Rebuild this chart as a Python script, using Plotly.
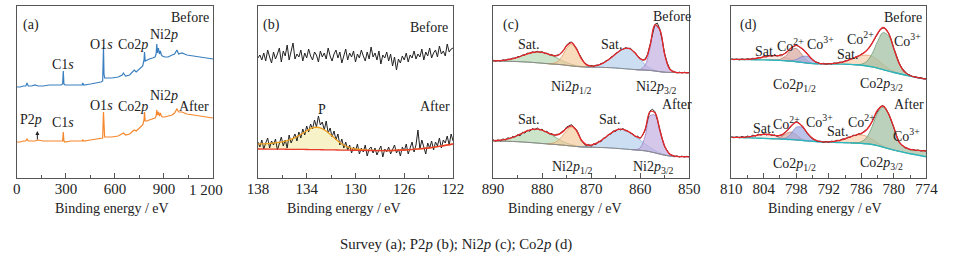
import plotly.graph_objects as go

W, H = 954, 259
FONT = "Liberation Serif, Times New Roman, serif"
INK = "#222222"
FRAME = "#555555"
YOFF = 2  # annotation vertical correction (px)

# ---------------- (a) survey spectra ----------------
survey_ev = [0, 20, 40, 55, 62, 70, 90, 110, 130, 160, 200, 240, 270, 280, 284, 288, 295, 330, 370, 400,
             403, 410, 450, 490, 515, 525, 530, 533, 537, 545, 580, 620, 645, 652, 665, 690, 710, 718, 730, 750,
             770, 778, 781, 785, 795, 810, 830, 845, 852, 856, 860, 866, 872, 878, 884, 890, 905, 925, 950, 965,
             979, 990, 1010, 1040, 1080, 1120, 1160, 1200]
survey_before = [91, 91, 92, 92, 95, 92, 92, 93, 92, 92, 93, 93, 93, 94, 107, 94, 93, 93, 93, 93,
                 95, 93, 94, 95, 96, 97, 131, 104, 100, 100, 100, 101, 103, 105, 102, 103, 107, 108, 106, 109,
                 112, 118, 126, 117, 118, 119, 120, 121, 124, 134, 125, 130, 124, 127, 123, 122, 121, 121, 123, 124,
                 128, 124, 125, 123, 122, 121, 120, 119]
survey_after = [36, 36, 37, 37, 39, 37, 37, 37, 38, 37, 37, 37, 37, 37, 46, 37, 36, 37, 37, 37,
                38, 37, 38, 39, 40, 40, 66, 45, 41, 41, 41, 42, 44, 45, 43, 44, 47, 48, 47, 50,
                53, 58, 66, 57, 57, 58, 59, 60, 62, 68, 63, 66, 62, 65, 62, 61, 61, 62, 63, 65,
                69, 66, 66, 64, 63, 62, 61, 60]

# ---------------- (b) P2p ----------------
p2p_start, p2p_step = 138.0, 0.16
p2p_before = [120, 123, 118, 125, 117, 128, 121, 115, 126, 119,
              124, 130, 116, 127, 122, 133, 118, 126, 135, 119,
              124, 121, 128, 117, 125, 120, 129, 122, 118, 126,
              123, 116, 127, 121, 125, 119, 130, 122, 117, 124,
              128, 120, 126, 115, 123, 129, 118, 125, 121, 127,
              116, 124, 120, 128, 122, 117, 126, 119, 131, 121,
              125, 118, 127, 114, 123, 120, 126, 117, 124, 112,
              121, 108, 119, 115, 122, 118, 125, 116, 123, 120,
              127, 119, 124, 121, 129, 118, 126, 122, 130, 120,
              125, 128, 121, 132, 124, 127, 122, 134, 126, 129, 130]
p2p_after = [36, 31, 38, 29, 35, 40, 30, 37, 33, 39,
             28, 36, 41, 32, 38, 30, 43, 35, 39, 44,
             37, 46, 40, 49, 43, 52, 46, 54, 49, 58,
             51, 62, 53, 56, 48, 57, 45, 50, 41, 47,
             38, 44, 33, 39, 30, 36, 28, 33, 25, 31,
             27, 34, 24, 30, 26, 33, 22, 29, 31, 25,
             30, 23, 28, 32, 21, 29, 26, 31, 24, 28,
             33, 25, 29, 22, 31, 27, 34, 24, 30, 36,
             26, 33, 48, 29, 38, 31, 24, 35, 30, 37,
             28, 36, 32, 40, 30, 38, 35, 42, 33, 44, 37]
p2p_fit_ev = [138, 137, 136, 135.5, 135, 134.5, 134, 133.5, 133, 132.5, 132, 131.5, 131, 130.5, 130,
              129, 128, 127, 126, 125, 124, 123, 122]
p2p_fit_base = [29.0, 28.9, 28.8, 28.7, 28.7, 28.6, 28.5, 28.4, 28.3, 28.2, 28.1, 28.0, 27.9, 27.8, 27.7,
                27.5, 27.4, 27.5, 28.0, 28.8, 30.0, 31.8, 34.0]
p2p_fit_env = [34.0, 34.6, 36.2, 37.8, 40.2, 43.5, 47.2, 50.3, 50.5, 47.8, 43.0, 37.5, 33.2, 30.5, 29.0,
               27.9, 27.5, 27.5, 28.0, 28.8, 30.0, 31.8, 34.0]

# ---------------- (c) Ni2p  (fit grid 890 -> 850, 1 eV) ----------------
ni_grid_start = 890
ni_base_before = [117.0, 116.9, 116.8, 116.7, 116.6, 116.4, 116.2, 115.9, 115.6, 115.2, 114.8, 114.4, 114.0,
                  113.7, 113.3, 112.7, 112.1, 111.6, 111.2, 111.0, 110.9, 110.8, 110.7, 110.5, 110.3, 110.0,
                  109.6, 109.2, 108.8, 108.4, 108.1, 107.9, 107.6, 107.0, 106.3, 105.8, 105.6, 105.5, 105.4,
                  105.3, 105.2]
ni_before_sat1_from, ni_before_sat1 = 890, [0.2, 0.4, 0.8, 1.6, 2.8, 4.3, 6.3, 8.3, 9.9, 10.9, 10.9, 9.9, 8.3,
                                            6.3, 4.3, 2.8, 1.6, 0.8, 0.4, 0.2, 0]
ni_before_p12_from, ni_before_p12 = 879, [0, 0.4, 2.2, 7.8, 16.7, 21.6, 16.7, 7.8, 2.2, 0.4, 0]
ni_before_sat2_from, ni_before_sat2 = 871, [0, 0.65, 1.5, 3.2, 6.0, 9.8, 14.1, 18.1, 20.5, 20.2, 16.3, 10.5,
                                            5.5, 2.3, 0.8, 0.2, 0]
ni_before_p32_from, ni_before_p32 = 861, [0, 0.5, 5.0, 22.4, 45.3, 41.8, 17.6, 3.4, 0.3, 0]

ni_base_after = [37.0, 36.9, 36.8, 36.7, 36.5, 36.3, 36.0, 35.7, 35.3, 34.9, 34.5, 34.1, 33.8, 33.4, 33.0,
                 32.5, 32.0, 31.5, 31.1, 30.9, 30.8, 30.6, 30.5, 30.3, 30.0, 29.7, 29.3, 28.9, 28.5, 28.1,
                 27.7, 27.2, 26.3, 25.2, 23.9, 22.8, 22.0, 21.6, 21.4, 21.3, 21.2]
ni_after_sat1_from, ni_after_sat1 = 890, [0.3, 0.6, 1.3, 2.4, 4.1, 6.4, 9.0, 11.5, 13.3, 14.0, 13.3, 11.5, 9.0,
                                          6.4, 4.1, 2.4, 1.3, 0.6, 0.3, 0.1, 0]
ni_after_p12_from, ni_after_p12 = 879, [0, 0.9, 3.2, 8.3, 14.8, 18.9, 15.3, 6.2, 1.3, 0.1, 0]
ni_after_sat2_from, ni_after_sat2 = 873, [0, 0.4, 1.0, 2.0, 4.0, 6.9, 10.7, 14.7, 17.9, 19.5, 18.9, 16.8, 13.7,
                                          10.1, 6.8, 4.2, 2.4, 1.2, 0.6, 0.2, 0]
ni_after_p32_from, ni_after_p32 = 862, [0, 0.2, 2.4, 14.6, 35.8, 37.6, 22.8, 8.4, 1.9, 0.3, 0]

# measured Ni2p spectra, 890 -> 850 every 0.5 eV
ni_data_before = [117.8, 116.9, 117.6, 117.0, 118.2, 117.6, 118.9, 118.5, 119.9, 119.6, 121.4, 121.2, 122.9,
                  123.0, 124.8, 124.6, 126.2, 125.5, 126.8, 125.6, 126.3, 124.6, 124.9, 123.1, 123.4, 121.8,
                  122.8, 123.2, 126.0, 128.5, 132.8, 135.4, 136.0, 133.1, 129.8, 124.6, 119.8, 115.9, 113.9,
                  112.2, 112.6, 111.7, 112.9, 112.8, 114.5, 115.0, 117.1, 117.9, 120.8, 122.0, 124.8, 125.6,
                  128.3, 128.7, 130.4, 129.5, 129.8, 126.8, 125.3, 121.7, 119.8, 117.8, 119.0, 123.5, 133.0,
                  143.5, 153.6, 154.9, 148.8, 137.2, 124.0, 115.4, 109.6, 107.0, 106.4, 105.0, 105.9, 105.0,
                  105.8, 105.1, 105.6]
ni_data_after = [38.5, 36.8, 38.2, 37.0, 39.1, 38.0, 40.2, 39.4, 41.6, 40.8, 43.5, 42.1, 45.8, 44.9, 47.9,
                 46.7, 49.5, 48.2, 50.1, 48.0, 48.9, 46.2, 46.8, 43.9, 44.6, 42.1, 43.8, 43.5, 46.4, 47.6,
                 51.0, 52.3, 53.4, 50.6, 48.5, 43.2, 37.5, 34.6, 32.1, 33.6, 31.8, 34.2, 33.4, 36.8, 36.2,
                 39.9, 40.3, 43.6, 43.8, 47.1, 46.5, 49.2, 48.0, 49.5, 47.2, 47.0, 44.6, 44.1, 41.2, 41.8,
                 39.5, 43.0, 47.5, 58.0, 67.0, 68.8, 66.3, 58.5, 47.2, 39.0, 31.2, 27.0, 23.6, 22.8, 21.3,
                 22.2, 21.0, 21.9, 20.9, 21.7, 21.2]

# ---------------- (d) Co2p  (fit grid 810 -> 774, 1 eV) ----------------
co_grid_start = 810
co_base_before = [118.7, 118.6, 118.5, 118.4, 118.3, 118.2, 118.1, 118.0, 117.8, 117.6, 117.3, 116.9, 116.3,
                  115.6, 114.9, 114.4, 114.2, 114.1, 114.0, 114.0, 113.9, 113.8, 113.6, 113.2, 112.7, 112.0,
                  111.1, 109.9, 108.4, 106.9, 105.5, 104.2, 103.0, 101.9, 100.8, 99.8, 98.8]
co_before_sat_from, co_before_sat = 809, [0, 0.1, 0.3, 0.9, 1.8, 3.0, 4.1, 4.5, 4.1, 3.0, 1.8, 0.9, 0.3, 0.1, 0]
co_before_co2a_from, co_before_co2a = 803, [0, 0.1, 0.9, 4.4, 10.8, 13.3, 8.2, 2.5, 0.4, 0]
co_before_co3a_from, co_before_co3a = 800, [0, 0.3, 2.1, 5.7, 6.7, 3.5, 0.8, 0.1, 0]
co_before_co2b_from, co_before_co2b = 793, [0, 0.2, 0.6, 1.5, 2.9, 5.1, 7.5, 9.7, 10.9, 10.5, 8.2, 5.2, 2.7,
                                            1.1, 0.4, 0.1, 0]
co_before_co3b_from, co_before_co3b = 788, [0, 0.2, 1.1, 4.6, 13.3, 26.6, 36.9, 35.4, 22.8, 9.8, 2.8, 0.6,
                                            0.1, 0]

co_base_after = [40.7, 40.6, 40.4, 40.2, 40.0, 39.8, 39.6, 39.4, 39.2, 39.0, 38.8, 38.5, 38.1, 37.6, 37.1,
                 36.7, 36.3, 36.0, 35.8, 35.6, 35.5, 35.3, 35.1, 34.9, 34.6, 34.2, 33.5, 32.4, 30.9, 29.3,
                 27.9, 26.6, 25.4, 24.3, 23.3, 22.3, 21.4]
co_after_sat_from, co_after_sat = 809, [0, 0.3, 0.9, 1.9, 3.2, 4.1, 4.1, 3.2, 1.9, 0.9, 0.3, 0.1, 0]
co_after_co2a_from, co_after_co2a = 803, [0, 0.2, 1.6, 5.1, 7.5, 5.1, 1.6, 0.2, 0]
co_after_co3a_from, co_after_co3a = 801, [0, 1.0, 5.5, 12.6, 13.2, 8.0, 2.9, 0.7, 0.1, 0]
co_after_co2b_from, co_after_co2b = 793, [0, 0.4, 1.1, 2.2, 4.0, 6.1, 7.8, 8.5, 7.5, 5.2, 2.8, 1.1, 0.4, 0.1, 0]
co_after_co3b_from, co_after_co3b = 788, [0, 0.3, 1.6, 6.6, 18.0, 32.8, 40.0, 34.7, 22.6, 9.0, 5.5, 4.3, 4.5,
                                          5.0, 5.6]

# measured Co2p spectra, 810 -> 774 every 0.5 eV
co_data_before = [119.3, 118.2, 119.0, 118.1, 119.2, 118.3, 119.4, 118.6, 119.8, 119.1, 120.6, 120.0, 121.8,
                  121.0, 122.6, 121.7, 122.9, 121.9, 123.1, 122.9, 125.3, 126.8, 130.2, 132.0, 133.0, 131.4,
                  129.5, 127.4, 124.6, 120.8, 118.7, 116.1, 115.5, 114.1, 114.7, 113.8, 114.6, 114.0, 115.1,
                  114.7, 115.9, 115.7, 117.2, 117.4, 119.0, 119.5, 121.3, 121.8, 123.8, 125.0, 127.8, 130.6,
                  135.0, 139.4, 144.6, 148.4, 150.2, 149.4, 145.2, 138.6, 129.7, 121.8, 114.8, 109.8, 106.4,
                  103.9, 102.9, 101.2, 101.3, 100.1, 100.4, 99.1, 99.6]
co_data_after = [41.5, 40.1, 41.3, 40.2, 41.6, 40.5, 42.0, 41.0, 42.9, 41.8, 43.9, 42.8, 44.6, 43.0, 44.2,
                 42.4, 43.1, 41.5, 42.8, 43.1, 46.2, 48.0, 51.4, 54.6, 56.5, 55.0, 52.0, 49.1, 44.6, 41.8,
                 38.9, 37.9, 36.3, 36.9, 35.5, 36.6, 35.7, 36.9, 36.3, 37.8, 37.3, 39.1, 38.8, 40.9, 40.7,
                 42.8, 42.5, 44.3, 44.2, 46.6, 48.7, 51.8, 56.3, 62.4, 67.6, 71.3, 72.4, 69.5, 64.8, 58.1,
                 50.2, 42.3, 36.0, 32.9, 30.2, 29.8, 28.1, 28.6, 27.4, 28.0, 27.0, 27.6, 26.8]

# ---------------- axes ----------------
ticks_a = [0, 300, 600, 900, 1200]
ticktext_a = ["0", "300", "600", "900", ""]   # "1 200" is written separately (offset in the original)
last_tick_a = "1 200"
minor_a = [150, 450, 750, 1050]
ticks_b = [138, 134, 130, 126, 122]
minor_b = [136, 132, 128, 124]
ticks_c = [890, 880, 870, 860, 850]
minor_c = [885, 875, 865, 855]
ticks_d = [810, 804, 798, 792, 786, 780, 774]
minor_d = [807, 801, 795, 789, 783, 777]

fig = go.Figure()


def ax_names(k):
    return ("x", "y") if k == 1 else (f"x{k}", f"y{k}")


def add_line(k, x, y, color, width, shape="linear"):
    xa, ya = ax_names(k)
    fig.add_trace(go.Scatter(x=x, y=y, xaxis=xa, yaxis=ya, mode="lines", hoverinfo="skip",
                             line=dict(color=color, width=width, shape=shape)))


def add_poly(k, x, y, fill, edge, width=0.8):
    xa, ya = ax_names(k)
    fig.add_trace(go.Scatter(x=x, y=y, xaxis=xa, yaxis=ya, mode="lines", fill="toself", fillcolor=fill,
                             hoverinfo="skip", line=dict(color=edge, width=width, shape="spline")))


def add_component(k, start, vals, grid_start, base, fill, edge):
    xs = [start - i for i in range(len(vals))]
    bs = [base[int(round(grid_start - xx))] for xx in xs]
    top = [b + v for b, v in zip(bs, vals)]
    add_poly(k, xs + xs[::-1], top + bs[::-1], fill, edge)


def envelope(grid_start, base, comps):
    env = list(base)
    for start, vals in comps:
        for i, v in enumerate(vals):
            env[int(round(grid_start - (start - i)))] += v
    return env


# (a)
add_line(1, survey_ev, survey_before, "#3a7fc0", 1.2)
add_line(1, survey_ev, survey_after, "#f5862b", 1.2)

# (b)
p2p_ev = [p2p_start - p2p_step * i for i in range(len(p2p_before))]
add_poly(2, p2p_fit_ev + p2p_fit_ev[::-1], p2p_fit_env + p2p_fit_base[::-1], "rgba(246,240,190,0.85)",
         "rgba(0,0,0,0)", 0)
add_line(2, p2p_ev, p2p_before, "#222222", 1.0)
add_line(2, p2p_ev, p2p_after, "#222222", 1.0)
add_line(2, p2p_fit_ev, p2p_fit_env, "#f0a020", 1.3, "spline")
add_line(2, p2p_fit_ev, p2p_fit_base, "#e8392c", 1.3, "spline")

# (c)
ni_grid = [ni_grid_start - i for i in range(len(ni_base_before))]
ni_data_ev = [ni_grid_start - 0.5 * i for i in range(len(ni_data_before))]
C_GREEN = ("rgba(170,210,165,0.6)", "#7aaa78")
C_ORANGE = ("rgba(245,200,150,0.65)", "#dba064")
C_BLUE = ("rgba(175,205,235,0.65)", "#85b0d8")
C_PURPLE = ("rgba(195,175,225,0.7)", "#9a82c4")
for base, comps, data in [
    (ni_base_before, [(ni_before_sat1_from, ni_before_sat1, C_GREEN), (ni_before_p12_from, ni_before_p12, C_ORANGE),
                      (ni_before_sat2_from, ni_before_sat2, C_BLUE), (ni_before_p32_from, ni_before_p32, C_PURPLE)],
     ni_data_before),
    (ni_base_after, [(ni_after_sat1_from, ni_after_sat1, C_GREEN), (ni_after_p12_from, ni_after_p12, C_ORANGE),
                     (ni_after_sat2_from, ni_after_sat2, C_BLUE), (ni_after_p32_from, ni_after_p32, C_PURPLE)],
     ni_data_after)]:
    for start, vals, (fc, ec) in comps:
        add_component(3, start, vals, ni_grid_start, base, fc, ec)
    add_line(3, ni_grid, base, "#8a8a8a", 1.0, "spline")
    add_line(3, ni_data_ev, data, "#303030", 1.0)
    add_line(3, ni_grid, envelope(ni_grid_start, base, [(s, v) for s, v, _ in comps]), "#e8262a", 1.3, "spline")

# (d)
co_grid = [co_grid_start - i for i in range(len(co_base_before))]
co_data_ev = [co_grid_start - 0.5 * i for i in range(len(co_data_before))]
D_SAT = ("rgba(245,215,200,0.5)", "#e6bfae")
D_CO2A = ("rgba(215,160,150,0.65)", "#c07d74")
D_CO3A = ("rgba(160,170,225,0.7)", "#7b86cc")
D_CO2B = ("rgba(245,200,160,0.6)", "#e0a070")
D_CO3B = ("rgba(160,190,160,0.7)", "#6e9b72")
for base, comps, data in [
    (co_base_before, [(co_before_sat_from, co_before_sat, D_SAT), (co_before_co2a_from, co_before_co2a, D_CO2A),
                      (co_before_co3a_from, co_before_co3a, D_CO3A), (co_before_co2b_from, co_before_co2b, D_CO2B),
                      (co_before_co3b_from, co_before_co3b, D_CO3B)], co_data_before),
    (co_base_after, [(co_after_sat_from, co_after_sat, D_SAT), (co_after_co2a_from, co_after_co2a, D_CO2A),
                     (co_after_co3a_from, co_after_co3a, D_CO3A), (co_after_co2b_from, co_after_co2b, D_CO2B),
                     (co_after_co3b_from, co_after_co3b, D_CO3B)], co_data_after)]:
    for start, vals, (fc, ec) in comps:
        add_component(4, start, vals, co_grid_start, base, fc, ec)
    add_line(4, co_grid, base, "#2bb6be", 1.4, "spline")
    add_line(4, co_data_ev, data, "#303030", 1.0)
    add_line(4, co_grid, envelope(co_grid_start, base, [(s, v) for s, v, _ in comps]), "#e8262a", 1.3, "spline")

# ---------------- layout ----------------
panels_px = [(6, 207), (253, 453), (494, 695), (738, 938)]
ydom = [1 - 178 / H, 1 - 6 / H]
xspecs = [
    ([0, 1200], ticks_a, ticktext_a, minor_a),
    ([138, 122], ticks_b, [str(t) for t in ticks_b], minor_b),
    ([890, 850], ticks_c, [str(t) for t in ticks_c], minor_c),
    ([810, 774], ticks_d, [str(t) for t in ticks_d], minor_d),
]
layout = dict(width=W, height=H, margin=dict(l=0, r=0, t=0, b=0), paper_bgcolor="white",
              plot_bgcolor="white", showlegend=False, font=dict(family=FONT, color=INK))
for k, ((p0, p1), (rng, tv, tt, mv)) in enumerate(zip(panels_px, xspecs), start=1):
    xa = "xaxis" if k == 1 else f"xaxis{k}"
    ya = "yaxis" if k == 1 else f"yaxis{k}"
    layout[xa] = dict(domain=[p0 / W, p1 / W], anchor="y" if k == 1 else f"y{k}", range=rng,
                      showline=True, mirror=True, linecolor=FRAME, linewidth=1,
                      ticks="inside", ticklen=5, tickwidth=1, tickcolor=FRAME,
                      tickmode="array", tickvals=tv, ticktext=tt, ticklabelstandoff=-3,
                      tickfont=dict(family=FONT, size=15, color=INK),
                      minor=dict(tickmode="array", tickvals=mv, ticks="inside", ticklen=3, tickcolor=FRAME,
                                 showgrid=False),
                      showgrid=False, zeroline=False)
    layout[ya] = dict(domain=ydom, anchor="x" if k == 1 else f"x{k}", range=[0, 172],
                      showline=True, mirror=True, linecolor=FRAME, linewidth=1,
                      ticks="", showticklabels=False, showgrid=False, zeroline=False)
fig.update_layout(**layout)


def P(x, y):
    return dict(x=x / W, y=1 - (y + YOFF) / H, xref="paper", yref="paper")


labels = [
    # (a)
    ("(a)", 20, 23, 14), ("Before", 183, 16, 14), ("C1<i>s</i>", 53, 63, 14), ("O1<i>s</i>", 93, 43, 14),
    ("Co2<i>p</i>", 125, 43, 14), ("Ni2<i>p</i>", 157, 33, 14),
    ("P2<i>p</i>", 20, 118, 14), ("C1<i>s</i>", 53, 121, 14), ("O1<i>s</i>", 93, 103, 14),
    ("Co2<i>p</i>", 125, 104, 14), ("Ni2<i>p</i>", 157, 94, 14), ("After", 188, 104, 14),
    # (b)
    ("(b)", 267, 23, 14), ("Before", 428, 25, 14), ("After", 434, 104, 14), ("P", 319, 107, 14),
    # (c)
    ("(c)", 512, 23, 14), ("Before", 677, 15, 14), ("Sat.", 530, 43, 14), ("Sat.", 615, 43, 14),
    ("Ni2<i>p</i><sub>1/2</sub>", 574, 85, 14), ("Ni2<i>p</i><sub>3/2</sub>", 661, 85, 14),
    ("After", 682, 102, 14), ("Sat.", 530, 118, 14), ("Sat.", 613, 118, 14),
    ("Ni2<i>p</i><sub>1/2</sub>", 575, 165, 14), ("Ni2<i>p</i><sub>3/2</sub>", 658, 165, 14),
    # (d)
    ("(d)", 756, 23, 14), ("Before", 914, 16, 14), ("Sat.", 773, 49, 14),
    ("Co<sup>2+</sup>", 799, 43, 14), ("Co<sup>3+</sup>", 830, 41, 14), ("Sat.", 857, 52, 14),
    ("Co<sup>2+</sup>", 870, 36, 14), ("Co<sup>3+</sup>", 919, 38, 14),
    ("Co2<i>p</i><sub>1/2</sub>", 803, 83, 14), ("Co2<i>p</i><sub>3/2</sub>", 892, 82, 14),
    ("After", 920, 102, 14), ("Sat.", 771, 126, 14), ("Co<sup>2+</sup>", 795, 121, 14),
    ("Co<sup>3+</sup>", 828, 119, 14), ("Sat.", 847, 129, 14), ("Co<sup>2+</sup>", 871, 119, 14),
    ("Co<sup>3+</sup>", 918, 133, 14),
    ("Co2<i>p</i><sub>1/2</sub>", 803, 162, 14), ("Co2<i>p</i><sub>3/2</sub>", 892, 161, 14),
]
ann = []
for text, x, y, s in labels:
    ann.append(dict(text=text, showarrow=False, xanchor="center", yanchor="middle",
                    font=dict(family=FONT, size=s, color=INK), **P(x, y)))
for cx in [104, 341, 568, 834]:
    ann.append(dict(text="Binding energy / eV", showarrow=False, xanchor="center", yanchor="middle",
                    font=dict(family=FONT, size=14, color=INK), **P(cx, 206)))
ann.append(dict(text="Survey (a); P2<i>p</i> (b); Ni2<i>p</i> (c); Co2<i>p</i> (d)", showarrow=False,
                xanchor="center", yanchor="middle", font=dict(family=FONT, size=14.8, color=INK), **P(456, 242)))
ann.append(dict(text=last_tick_a, showarrow=False, xanchor="center", yanchor="middle",
                font=dict(family=FONT, size=15, color=INK), **P(200, 188)))
# small arrow under the P2p label
ann.append(dict(text="", showarrow=True, arrowhead=2, arrowsize=0.8, arrowwidth=1, arrowcolor=INK,
                ax=0, ay=10, axref="pixel", ayref="pixel", x=27 / W, y=1 - 131 / H, xref="paper", yref="paper"))
fig.update_layout(annotations=ann)

fig.write_html("out.html", config={"displayModeBar": False, "staticPlot": True},
               post_script="document.body.style.margin='0px';"
                           "document.documentElement.style.overflow='hidden';")
